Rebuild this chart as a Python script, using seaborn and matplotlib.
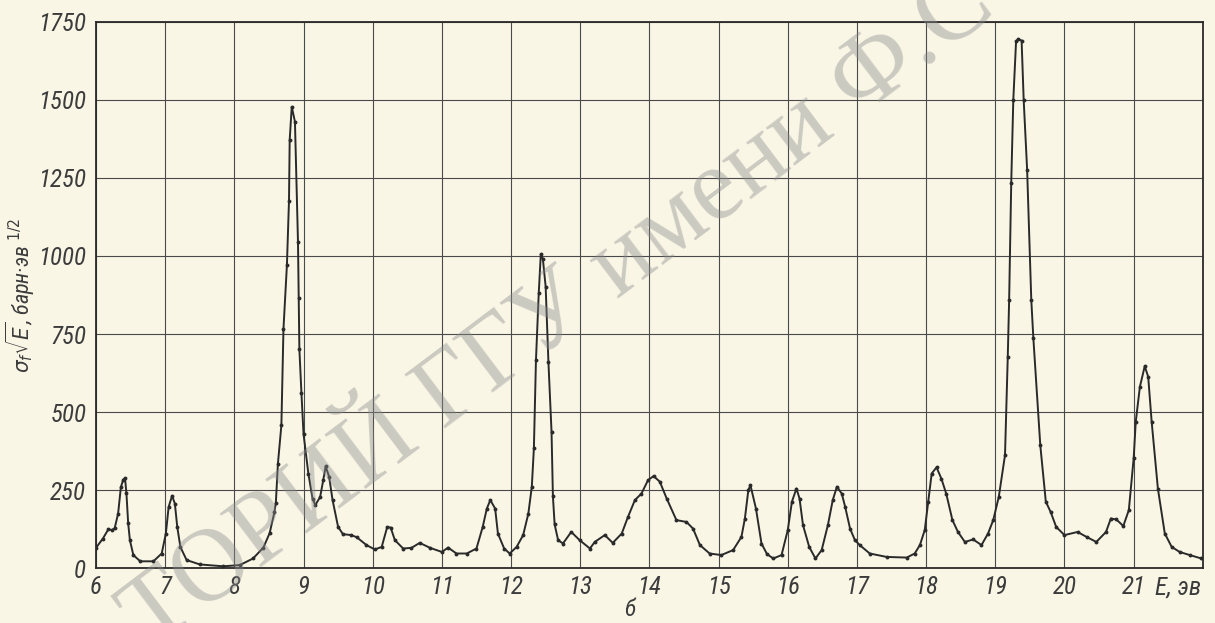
import numpy as np
import pandas as pd
import matplotlib
matplotlib.use("Agg")
import matplotlib.pyplot as plt
from matplotlib import font_manager
import seaborn as sns

# Energy (eV) and sigma_f * sqrt(E) (barn * eV^1/2)
energy = [6.00, 6.10, 6.18, 6.23, 6.27, 6.32, 6.36, 6.395, 6.42, 6.44, 6.465, 6.49,
          6.54, 6.64, 6.83, 6.95, 7.01, 7.05, 7.10, 7.14, 7.175, 7.22, 7.31, 7.50,
          7.84, 8.08, 8.27, 8.42, 8.51, 8.58, 8.60, 8.63, 8.68, 8.71, 8.76, 8.79,
          8.80, 8.83, 8.876, 8.92, 8.93, 8.94, 8.97, 9.00, 9.07, 9.13, 9.17, 9.24,
          9.285, 9.32, 9.37, 9.42, 9.50, 9.57, 9.69, 9.77, 9.91, 10.03, 10.13, 10.21,
          10.26, 10.32, 10.44, 10.56, 10.68, 10.83, 11.00, 11.09, 11.21, 11.36, 11.50,
          11.59, 11.65, 11.70, 11.77, 11.81, 11.90, 11.98, 12.08, 12.175, 12.25, 12.30,
          12.33, 12.36, 12.40, 12.43, 12.46, 12.50, 12.54, 12.585, 12.605, 12.63, 12.68,
          12.75, 12.87, 12.99, 13.14, 13.21, 13.355, 13.47, 13.60, 13.69, 13.79, 13.885,
          13.98, 14.06, 14.15, 14.25, 14.39, 14.535, 14.63, 14.73, 14.87, 15.04, 15.21,
          15.33, 15.38, 15.43, 15.46, 15.54, 15.62, 15.70, 15.79, 15.91, 16.00, 16.06,
          16.125, 16.17, 16.22, 16.31, 16.40, 16.49, 16.58, 16.65, 16.71, 16.78, 16.83,
          16.90, 16.97, 17.04, 17.185, 17.43, 17.72, 17.835, 17.91, 17.98, 18.03, 18.08,
          18.15, 18.22, 18.29, 18.38, 18.46, 18.56, 18.68, 18.80, 18.895, 18.97, 19.05,
          19.14, 19.18, 19.20, 19.23, 19.26, 19.30, 19.33, 19.38, 19.41, 19.46, 19.52,
          19.55, 19.65, 19.73, 19.80, 19.88, 20.00, 20.19, 20.32, 20.46, 20.60, 20.67,
          20.75, 20.85, 20.93, 21.00, 21.03, 21.09, 21.16, 21.21, 21.26, 21.35, 21.45,
          21.55, 21.665, 21.81, 21.98]
sigma_sqrt_e = [65, 95, 125, 122, 128, 175, 260, 284, 288, 240, 145, 90,
                42, 22, 22, 47, 111, 196, 232, 207, 132, 68, 26, 12,
                6, 10, 31, 66, 112, 180, 210, 335, 458, 766, 971, 1177,
                1372, 1478, 1430, 1045, 865, 702, 560, 430, 303, 223, 202, 228,
                282, 326, 293, 218, 132, 109, 106, 99, 74, 60, 68, 132,
                130, 90, 63, 65, 81, 65, 52, 66, 47, 47, 63,
                132, 191, 218, 191, 111, 63, 47, 68, 106, 175, 261,
                384, 667, 880, 1006, 990, 902, 661, 437, 230, 140, 90,
                79, 116, 90, 63, 84, 106, 81, 111, 164, 218, 239,
                282, 295, 277, 223, 154, 148, 127, 74, 47, 42, 58,
                100, 159, 250, 266, 191, 79, 45, 31, 42, 122, 213,
                255, 223, 138, 68, 31, 58, 138, 218, 261, 239, 196,
                127, 90, 74, 47, 36, 34, 47, 74, 122, 213, 303,
                323, 287, 239, 154, 116, 84, 92, 74, 111, 154, 228,
                362, 677, 860, 1233, 1500, 1687, 1695, 1690, 1500, 1276, 859,
                736, 394, 213, 180, 132, 106, 116, 100, 84, 116, 159,
                156, 135, 186, 352, 469, 581, 647, 613, 469, 255, 111,
                68, 52, 42, 31]

x_ticks = list(range(6, 22))
y_ticks = [0, 250, 500, 750, 1000, 1250, 1500, 1750]

paper = "#f9f6e6"
ink = "#2a2a2a"
label_col = "#3c3c3c"

sns.set_theme(style="white")
# narrow drawing-office lettering: take a condensed face if one is installed
installed = {f.name for f in font_manager.fontManager.ttflist}
families = [f for f in ['Roboto Condensed', 'DejaVu Sans Condensed', 'Liberation Sans Narrow',
                        'Open Sans Condensed'] if f in installed] + ['DejaVu Sans']
plt.rcParams['font.family'] = families
plt.rcParams['font.stretch'] = 'condensed'
plt.rcParams['mathtext.fontset'] = 'dejavusans'

df = pd.DataFrame({"E": energy, "s": sigma_sqrt_e})

fig = plt.figure(figsize=(12.15, 6.23), dpi=100, facecolor=paper)
ax = fig.add_axes([0.079, 0.088, 0.911, 0.877], facecolor=paper)

sns.lineplot(data=df, x="E", y="s", sort=False, ax=ax, color=ink, linewidth=1.4,
             marker="o", markersize=2.8, markeredgewidth=0, zorder=3)

ax.set_xlim(6, 22)
ax.set_ylim(0, 1750)
ax.set_xticks(x_ticks)
ax.set_yticks(y_ticks)
ax.set_xticklabels([str(t) for t in x_ticks], fontsize=18, style="italic", color=label_col)
ax.set_yticklabels([str(t) for t in y_ticks], fontsize=18, style="italic", color=label_col)
ax.tick_params(axis="x", length=0, pad=5)
ax.tick_params(axis="y", length=0, pad=7)
ax.grid(True, color="#4a4a4a", linewidth=0.8)
for sp in ax.spines.values():
    sp.set_color(ink)
    sp.set_linewidth(1.3)

ax.set_xlabel("")
ax.set_ylabel(r"$\sigma_f\sqrt{E}$, барн·эв $^{1/2}$", fontsize=16, style="italic",
              color=label_col, labelpad=1)

# energy unit sits where the "22" label would be
ax.text(0.9985, -0.014, "E, эв", transform=ax.transAxes, ha="right",
        va="top", fontsize=18, style="italic", color=label_col)
fig.text(0.518, 0.004, "б", ha="center", va="bottom", fontsize=17, style="italic",
         color=label_col)

# library stamp across the scan
fig.text(0.46, 0.50, "ТОРИЙ ГГУ имени Ф.С", rotation=37, ha="center", va="center",
         fontsize=74, family="Liberation Serif", color="#8c8c8c", alpha=0.42, zorder=5)

fig.savefig("out.png", dpi=100, facecolor=paper)
